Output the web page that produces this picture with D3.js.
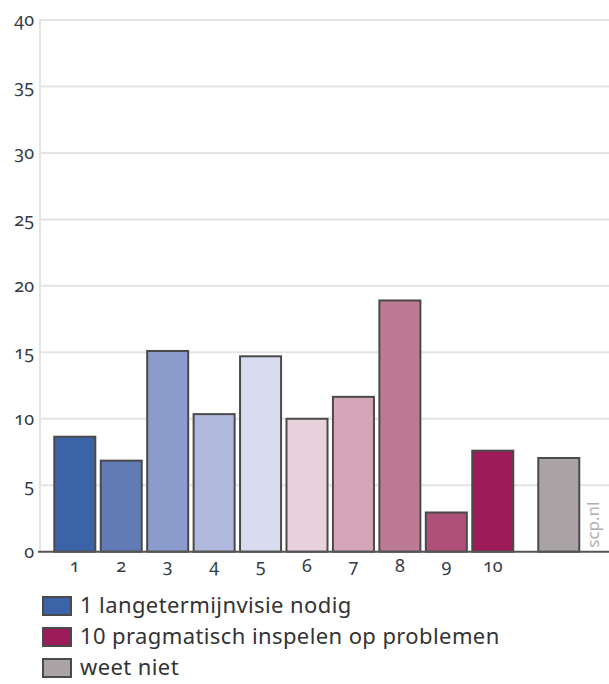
<!DOCTYPE html>
<html><head><meta charset="utf-8">
<script src="https://cdn.jsdelivr.net/npm/d3@7"></script>
<style>
body{margin:0;background:#fff;}
svg{display:block;font-family:"Noto Sans",sans-serif;}
.num{font-variant-numeric:oldstyle-nums;font-feature-settings:"onum" 1;}
</style></head><body>
<svg id="c" width="609" height="684"></svg>
<script>
const categories = ["1","2","3","4","5","6","7","8","9","10","weet niet"];
const tickLabels = ["1","2","3","4","5","6","7","8","9","10",""];
const values = [8.65, 6.85, 15.1, 10.35, 14.7, 10.0, 11.65, 18.9, 2.95, 7.6, 7.05];
const colors = ["#3b64a8","#607bb6","#8a9bcc","#b0b9dd","#d8dcee","#e8d3dd","#d4a6b8","#bd7a93","#ae5077","#9d1b58","#a9a3a6"];
const yTicks = [0,5,10,15,20,25,30,35,40];
const legendLabels = ["1 langetermijnvisie nodig","10 pragmatisch inspelen op problemen","weet niet"];
const legendColors = ["#3b64a8","#9d1b58","#a9a3a6"];

(function(){
const svg = d3.select("#c");
const mLeft = 40, mRight = 609, mTop = 20, mBottom = 551.7;
const step = 46.44, pIn = 0.117;
const y = d3.scaleLinear().domain([0,40]).range([mBottom, mTop]);
const x0 = 54.3 - step*pIn/2;
const x = d3.scaleBand().domain(categories.slice(0,10)).range([x0, x0+step*10]).paddingInner(pIn).paddingOuter(pIn/2);
const gap = 66 - step;
const xPos = c => c === "weet niet" ? x("10") + step + gap : x(c);

svg.append("g").selectAll("line").data(yTicks.filter(d=>d>0)).join("line")
  .attr("x1", mLeft).attr("x2", mRight).attr("y1", d=>y(d)).attr("y2", d=>y(d))
  .attr("stroke", "#e4e4e4").attr("stroke-width", 2);
svg.append("line").attr("x1", mLeft).attr("x2", mLeft).attr("y1", y(40)-1).attr("y2", y(0))
  .attr("stroke", "#e4e4e4").attr("stroke-width", 2);

const yAxis = d3.axisLeft(y).tickValues(yTicks).tickSize(0).tickPadding(6);
const ya = svg.append("g").attr("transform", `translate(${mLeft},0)`).call(yAxis);
ya.select(".domain").remove();
ya.selectAll("text").attr("class","num").attr("font-size", 18).attr("fill", "#333a45")
  .attr("font-family", "'Noto Sans',sans-serif");

svg.append("g").selectAll("rect").data(categories).join("rect")
  .attr("x", (d)=>xPos(d)).attr("width", x.bandwidth())
  .attr("y", (d,i)=>y(values[i])).attr("height", (d,i)=>y(0)-y(values[i]))
  .attr("fill", (d,i)=>colors[i]).attr("stroke", "#4a4a4a").attr("stroke-width", 2);

svg.append("line").attr("x1", mLeft-2).attr("x2", mRight).attr("y1", y(0)).attr("y2", y(0))
  .attr("stroke", "#555").attr("stroke-width", 2);

svg.append("g").selectAll("text").data(categories).join("text")
  .attr("class","num")
  .attr("x", d=>xPos(d)+x.bandwidth()/2).attr("y", y(0)+20)
  .attr("text-anchor","middle").attr("font-size", 18).attr("fill","#333a45")
  .text((d,i)=>tickLabels[i]);

svg.append("text").attr("transform", `translate(599,${y(0)-4}) rotate(-90)`)
  .attr("font-size", 17).attr("fill", "#b0b0b0").text("scp.nl");

const lg = svg.append("g").attr("transform","translate(43,597)");
legendLabels.forEach((t,i)=>{
  const g = lg.append("g").attr("transform",`translate(0,${i*31})`);
  g.append("rect").attr("width",28).attr("height",18).attr("fill",legendColors[i])
    .attr("stroke","#4a4a4a").attr("stroke-width",2);
  g.append("text").attr("x",37).attr("y",16).attr("font-size",22).attr("letter-spacing",0.4)
    .attr("fill","#333").text(t);
});
})();
</script></body></html>
